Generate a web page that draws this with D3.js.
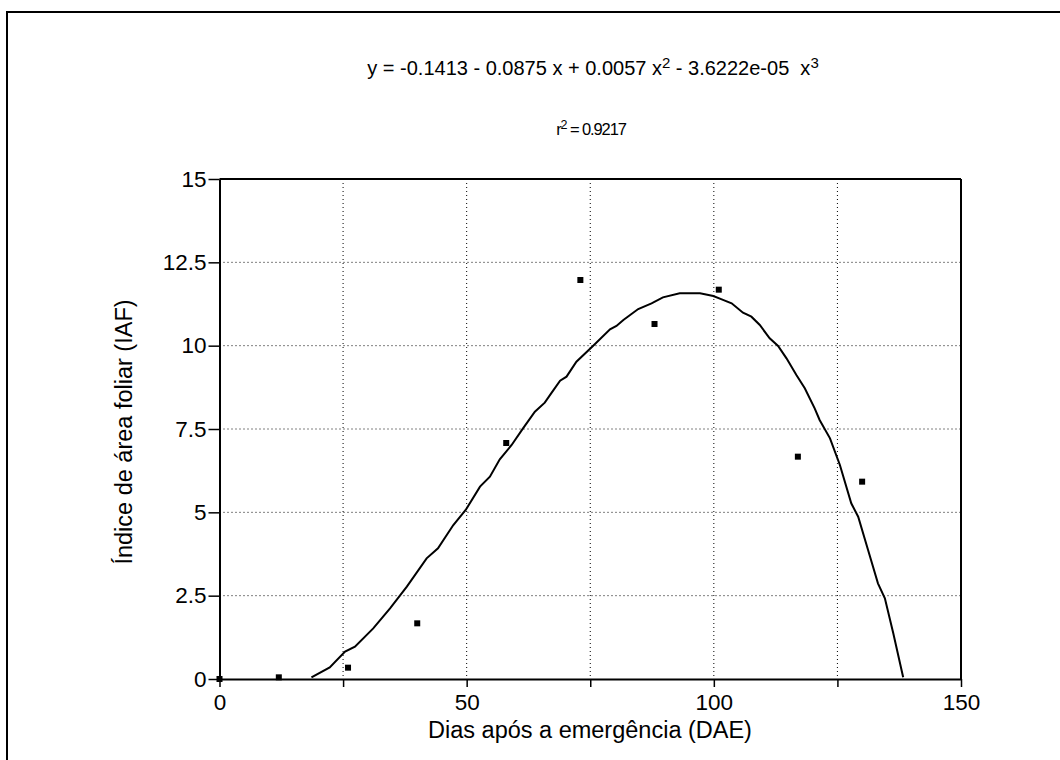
<!DOCTYPE html>
<html>
<head>
<meta charset="utf-8">
<script src="https://cdn.jsdelivr.net/npm/d3@7"></script>
<style>
  body { margin: 0; background: #fff; }
  svg text { font-family: "Liberation Sans", Arial, sans-serif; fill: #000; }
</style>
</head>
<body>
<div class="canvas"></div>
<script>
const obsDays = [0, 12, 26, 40, 58, 73, 88, 101, 117, 130];
const obsIAF = [0, 0.05, 0.34, 1.67, 7.08, 11.97, 10.65, 11.68, 6.67, 5.92];

// fitted curve
const fitX = [18.6, 22.3, 25.4, 27.4, 31.1, 34.5, 37.9, 41.9, 44.2, 47.3, 49.8, 52.7, 54.7, 56.7,
  59.1, 61.4, 63.8, 65.8, 67.2, 68.9, 70.2, 72.2, 75.6, 79, 80.3, 81.7, 84.7, 87.4, 89.7, 93.1,
  97.2, 99.9, 101.6, 103.6, 105.9, 107.6, 109.3, 111.3, 113, 114.7, 116.7, 118.4, 120.4, 121.4,
  123.5, 125.5, 127.8, 129.2, 131.2, 133.2, 134.6, 136.3, 138.3];
const fitY = [0.05, 0.35, 0.82, 0.97, 1.52, 2.12, 2.77, 3.62, 3.92, 4.62, 5.07, 5.77, 6.07, 6.59,
  7.02, 7.52, 8.02, 8.29, 8.59, 8.95, 9.07, 9.52, 10.0, 10.49, 10.59, 10.77, 11.1, 11.27, 11.45, 11.57,
  11.57, 11.49, 11.39, 11.27, 10.99, 10.87, 10.62, 10.22, 9.99, 9.62, 9.12, 8.72, 8.12, 7.77,
  7.22, 6.42, 5.27, 4.87, 3.87, 2.87, 2.42, 1.37, 0.05];

const xTicks = [0, 25, 50, 75, 100, 125, 150];
const xLabels = ['0', '', '50', '', '100', '', '150'];
const yTicks = [0, 2.5, 5, 7.5, 10, 12.5, 15];
const yLabels = ['0', '2.5', '5', '7.5', '10', '12.5', '15'];

const equation = 'y = -0.1413 - 0.0875 x + 0.0057 x';
const rSquared = '0.9217';
const xTitle = 'Dias após a emergência (DAE)';
const yTitle = 'Índice de área foliar (IAF)';

const width = 1060, height = 760;
const margin = { top: 179, right: 99, bottom: 81, left: 219.5 };
const graphWidth = width - margin.left - margin.right;
const graphHeight = height - margin.top - margin.bottom;

const svg = d3.select('.canvas')
  .append('svg')
  .attr('width', width)
  .attr('height', height);

// outer frame (only top and left edges visible)
svg.append('rect')
  .attr('x', 7).attr('y', 12)
  .attr('width', 1200).attr('height', 900)
  .attr('fill', 'none').attr('stroke', '#000').attr('stroke-width', 2);

const graph = svg.append('g')
  .attr('transform', `translate(${margin.left}, ${margin.top})`);

const x = d3.scaleLinear().domain([0, 150]).range([0, graphWidth]);
const y = d3.scaleLinear().domain([0, 15]).range([graphHeight, 0]);

// dotted grid
graph.append('g')
  .selectAll('line')
  .data(xTicks.slice(1, -1))
  .join('line')
  .attr('x1', d => x(d)).attr('x2', d => x(d))
  .attr('y1', 0).attr('y2', graphHeight)
  .attr('stroke', '#000').attr('stroke-width', 1).attr('stroke-dasharray', '1,3');

graph.append('g')
  .selectAll('line')
  .data(yTicks.slice(1, -1))
  .join('line')
  .attr('x1', 0).attr('x2', graphWidth)
  .attr('y1', d => y(d)).attr('y2', d => y(d))
  .attr('stroke', '#000').attr('stroke-width', 1).attr('stroke-dasharray', '1,3');

// frame top / right
graph.append('line')
  .attr('x1', 0).attr('x2', graphWidth).attr('y1', 0).attr('y2', 0)
  .attr('stroke', '#000').attr('stroke-width', 2);
graph.append('line')
  .attr('x1', graphWidth).attr('x2', graphWidth).attr('y1', 0).attr('y2', graphHeight)
  .attr('stroke', '#000').attr('stroke-width', 2);

const xAxis = d3.axisBottom(x)
  .tickValues(xTicks)
  .tickSize(8)
  .tickSizeOuter(0)
  .tickPadding(7)
  .tickFormat((d, i) => xLabels[i]);

const yAxis = d3.axisLeft(y)
  .tickValues(yTicks)
  .tickSize(11)
  .tickSizeOuter(0)
  .tickPadding(2)
  .tickFormat((d, i) => yLabels[i]);

const xAxisGroup = graph.append('g')
  .attr('transform', `translate(0, ${graphHeight})`)
  .call(xAxis);
const yAxisGroup = graph.append('g').call(yAxis);

[xAxisGroup, yAxisGroup].forEach(g => {
  g.select('.domain').attr('stroke-width', 2);
  g.selectAll('.tick line').attr('stroke-width', 1.5);
  g.selectAll('text')
    .attr('font-size', 22.5)
    .attr('font-family', '"Liberation Sans", Arial, sans-serif');
});

// fitted curve
const fit = fitX.map((d, i) => [d, fitY[i]]);
graph.append('path')
  .datum(fit)
  .attr('fill', 'none')
  .attr('stroke', '#000')
  .attr('stroke-width', 2)
  .attr('d', d3.line().x(d => x(d[0])).y(d => y(d[1])));

// observed points
const obs = obsDays.map((d, i) => ({ day: d, iaf: obsIAF[i] }));
graph.append('g')
  .selectAll('rect')
  .data(obs)
  .join('rect')
  .attr('x', d => x(d.day) - 3)
  .attr('y', d => y(d.iaf) - 3)
  .attr('width', 6)
  .attr('height', 6)
  .attr('fill', '#000');

// equation
const eq = svg.append('text')
  .attr('x', 593).attr('y', 75)
  .attr('text-anchor', 'middle')
  .attr('font-size', 20);
eq.append('tspan').text(equation);
eq.append('tspan').attr('font-size', 15).attr('dy', -7).text('2');
eq.append('tspan').attr('dy', 7).text(' - 3.6222e-05 \u00a0x');
eq.append('tspan').attr('font-size', 15).attr('dy', -7).text('3');

const r2 = svg.append('text')
  .attr('x', 591).attr('y', 135)
  .attr('text-anchor', 'middle')
  .attr('font-size', 16.5)
  .attr('letter-spacing', -1.1);
r2.append('tspan').text('r');
r2.append('tspan').attr('font-size', 12.5).attr('dy', -6).text('2');
r2.append('tspan').attr('dy', 6).text(' = ' + rSquared);

// axis titles
svg.append('text')
  .attr('x', 590).attr('y', 738)
  .attr('text-anchor', 'middle')
  .attr('font-size', 23.5)
  .text(xTitle);

svg.append('text')
  .attr('transform', 'translate(132, 432) rotate(-90)')
  .attr('text-anchor', 'middle')
  .attr('font-size', 23.5)
  .text(yTitle);
</script>
</body>
</html>
